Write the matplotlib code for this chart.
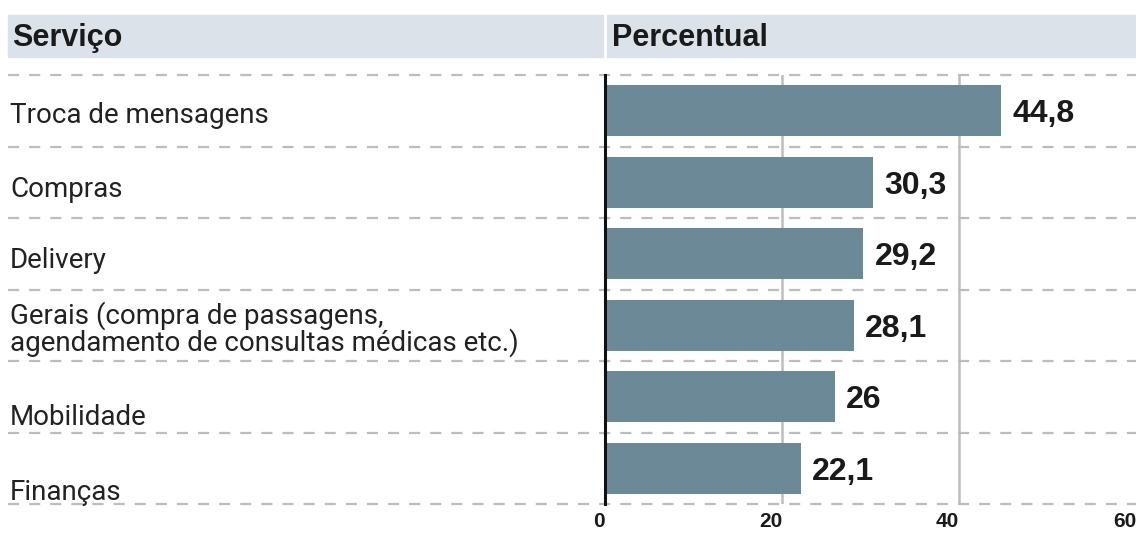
import matplotlib
matplotlib.use('Agg')
import matplotlib.pyplot as plt
from matplotlib.patches import Rectangle

servicos = ['Troca de mensagens', 'Compras', 'Delivery',
            'Gerais (compra de passagens,\nagendamento de consultas médicas etc.)',
            'Mobilidade', 'Finanças']
percentual = [44.8, 30.3, 29.2, 28.1, 26, 22.1]
ticks = [0, 20, 40, 60]

W, H = 1136, 534
bar_color = '#6c8998'
band_color = '#dbe2e9'
grid_color = '#bdbdbd'

fig = plt.figure(figsize=(W / 100, H / 100), dpi=100)
fig.patch.set_facecolor('white')

# axes placed in pixel units of the reference
ax_left, ax_top, ax_bottom, ax_right = 605, 75, 504, 1136
ax = fig.add_axes([ax_left / W, 1 - ax_bottom / H,
                   (ax_right - ax_left) / W, (ax_bottom - ax_top) / H])

y = list(range(len(servicos)))
ax.barh(y, percentual, height=0.71, color=bar_color, zorder=3)
ax.set_ylim(len(servicos) - 0.5, -0.5)
ax.set_xlim(0, 60)

for v in ticks[1:3]:
    ax.axvline(v, color=grid_color, lw=1.8, zorder=1)

# dashed row separators reaching across the label column
xmin = (8 - ax_left) / (ax_right - ax_left)
for k in range(len(servicos) + 1):
    ax.axhline(k - 0.5, xmin=xmin, xmax=1, color=grid_color, lw=1.6,
               ls=(0, (5, 4.5)), clip_on=False, zorder=2)

for s in ['top', 'right', 'bottom']:
    ax.spines[s].set_visible(False)
ax.spines['left'].set_linewidth(2.2)
ax.spines['left'].set_color('#111111')
ax.spines['left'].set_zorder(4)

ax.set_yticks([])
ax.set_xticks(ticks)
ax.set_xticklabels([str(t) for t in ticks], fontsize=15, fontweight='bold',
                   family=['Liberation Sans', 'DejaVu Sans'], color='#1a1a1a',
                   ha='right')
ax.tick_params(axis='x', length=0, pad=6)

for yi, v in zip(y, percentual):
    txt = ('%g' % v).replace('.', ',')
    ax.annotate(txt, (v, yi), xytext=(8, -8.3), textcoords='offset points',
                va='baseline', ha='left', fontsize=23, fontweight='bold',
                family=['Liberation Sans', 'DejaVu Sans'], color='#1a1a1a')

# header band
fig.patches.append(Rectangle((8 / W, 1 - 57 / H), (603 - 8) / W, 42 / H,
                             transform=fig.transFigure, color=band_color, zorder=0))
fig.patches.append(Rectangle((607 / W, 1 - 57 / H), (W - 607) / W, 42 / H,
                             transform=fig.transFigure, color=band_color, zorder=0))
head_font = dict(fontsize=22, fontweight='bold', va='baseline',
                 family=['Liberation Sans', 'DejaVu Sans'], color='#1a1a1a')
fig.text(12 / W, 1 - 46 / H, 'Serviço', **head_font)
fig.text(612 / W, 1 - 46 / H, 'Percentual', **head_font)

# category labels (baselines in pixels, last line of each label)
label_base = [123, 197, 268, 351, 425, 500]
for lab, b in zip(servicos, label_base):
    fig.text(10 / W, 1 - b / H, lab, fontsize=20, va='baseline', ha='left',
             linespacing=0.95, family=['Roboto', 'DejaVu Sans'],
             color='#222222')

fig.savefig('out.png', dpi=100)
